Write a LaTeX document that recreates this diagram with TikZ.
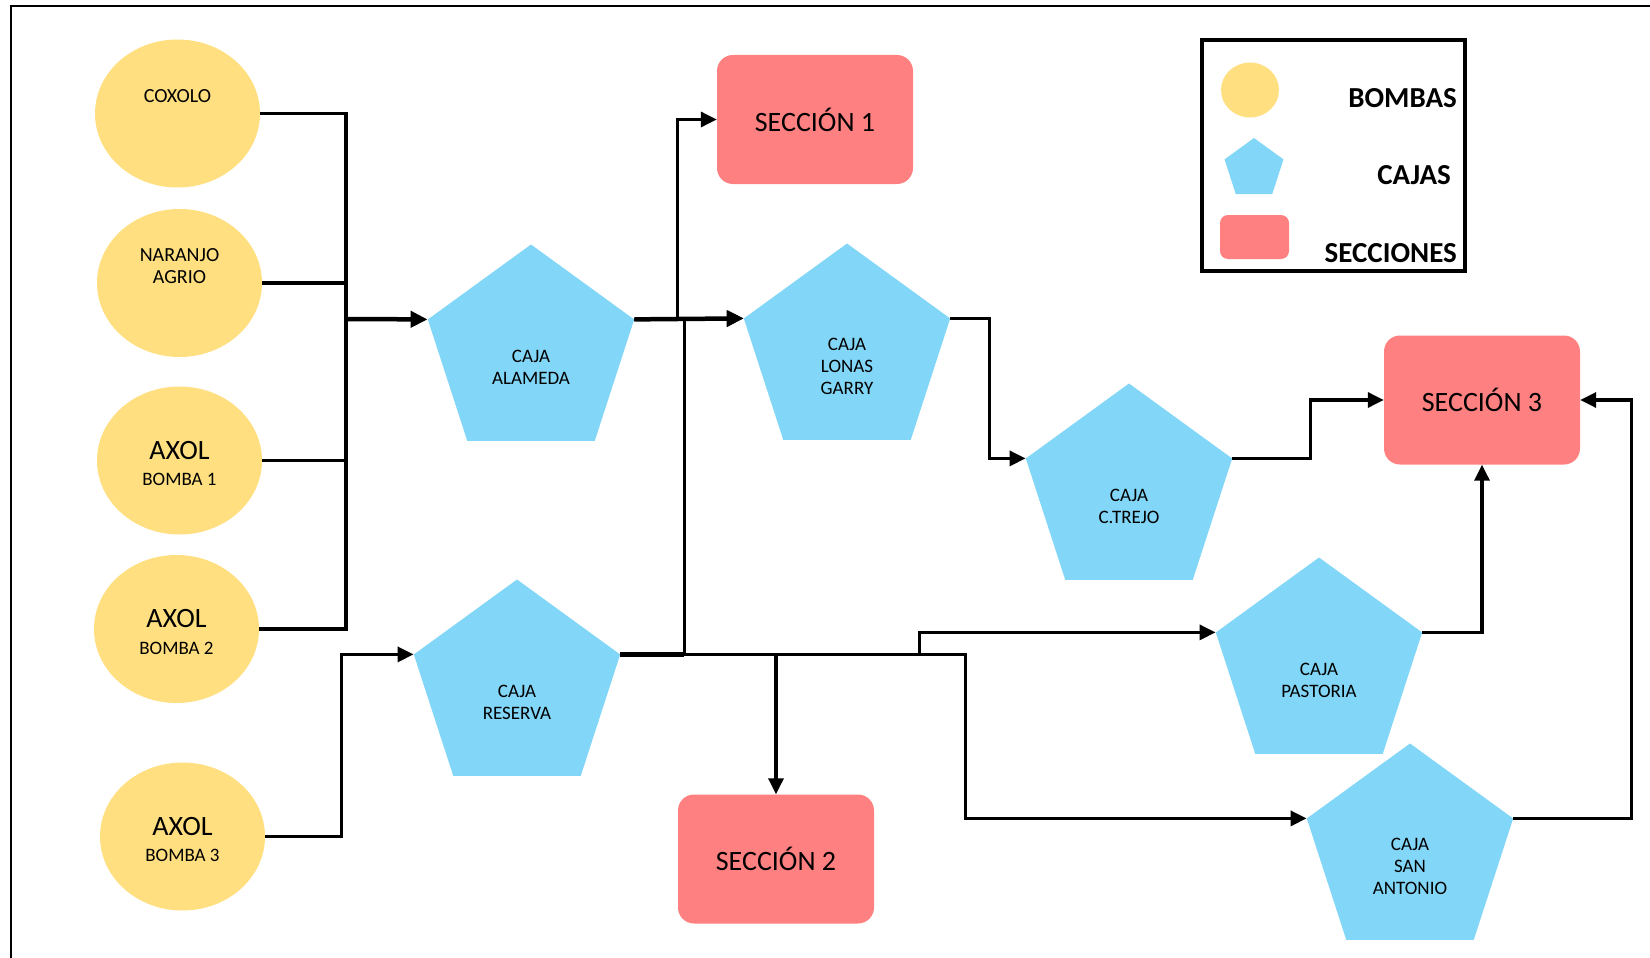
\documentclass[tikz,border=0pt]{standalone}
\usepackage{fontspec}
\setmainfont{Carlito}
\usetikzlibrary{shapes.geometric,arrows.meta}
\definecolor{bombacolor}{HTML}{FFDF80}
\definecolor{cajacolor}{HTML}{82D6F7}
\definecolor{seccioncolor}{HTML}{FF8080}

\begin{document}
\begin{tikzpicture}[x=1pt,y=-1pt,
    bomba/.style={ellipse,fill=bombacolor,minimum width=165pt,minimum height=148pt,inner sep=0pt},
    caja/.style={regular polygon,regular polygon sides=5,fill=cajacolor,minimum size=217pt,inner sep=0pt},
    seccion/.style={rectangle,rounded corners=16pt,fill=seccioncolor,minimum width=196pt,minimum height=129pt,
        font=\fontsize{28}{30}\selectfont},
    nombre/.style={font=\fontsize{20}{22}\selectfont,align=center,inner sep=0pt},
    grande/.style={font=\fontsize{28}{30}\selectfont,inner sep=0pt},
    cajatxt/.style={font=\fontsize{19}{22}\selectfont,align=center,inner sep=0pt},
    leyenda/.style={font=\fontsize{29}{31}\selectfont\bfseries,inner sep=0pt,anchor=east},
    flujo/.style={line width=3.3pt,-{Triangle[length=16pt,width=15pt]}},
    linea/.style={line width=3.3pt},
    grueso/.style={line width=4.5pt,-{Triangle[length=17pt,width=16pt]}}]
\useasboundingbox (0,0) rectangle (1650,958);
\draw[line width=2pt] (11,958) -- (11,6) -- (1650,6);

% bombas
\node[bomba] (coxolo) at (177.5,113.5) {};
\node[bomba] (naranjo) at (179.5,283) {};
\node[bomba] (axol1) at (179.5,460.5) {};
\node[bomba] (axol2) at (176.5,629) {};
\node[bomba] (axol3) at (182.5,836.5) {};
\node[nombre] (coxolo-t) at ([yshift=17pt]coxolo.center) {COXOLO};
\node[nombre] (naranjo-t) at ([yshift=17pt]naranjo.center) {NARANJO\\AGRIO};
\foreach \b/\n in {axol1/1,axol2/2,axol3/3} {
    \node[grande] (\b-t) at ([yshift=10pt]\b.center) {AXOL};
    \node[cajatxt] (\b-s) at ([yshift=-19pt]\b.center) {BOMBA \n};
}

% cajas
\node[caja] (alameda) at (531,353) {};
\node[caja] (lonas) at (847,352) {};
\node[caja] (trejo) at (1129,492) {};
\node[caja] (reserva) at (517,688) {};
\node[caja] (pastoria) at (1319,666) {};
\node[caja] (sanantonio) at (1410,852) {};
\node[cajatxt] (alameda-t) at ([yshift=-14pt]alameda.center) {CAJA\\ALAMEDA};
\node[cajatxt] (lonas-t) at ([yshift=-14pt]lonas.center) {CAJA\\LONAS\\GARRY};
\node[cajatxt] (trejo-t) at ([yshift=-14pt]trejo.center) {CAJA\\C.TREJO};
\node[cajatxt] (reserva-t) at ([yshift=-14pt]reserva.center) {CAJA\\RESERVA};
\node[cajatxt] (pastoria-t) at ([yshift=-14pt]pastoria.center) {CAJA\\PASTORIA};
\node[cajatxt] (sanantonio-t) at ([yshift=-14pt]sanantonio.center) {CAJA\\SAN\\ANTONIO};

% secciones
\node[seccion] (sec1) at (815,119.5) {SECCIÓN 1};
\node[seccion] (sec2) at (776,859) {SECCIÓN 2};
\node[seccion] (sec3) at (1482,400) {SECCIÓN 3};

% conexiones
\coordinate (busA) at (346,319);
\foreach \b in {coxolo,naranjo,axol1,axol2}
    \draw[linea] (\b.east) -| (busA);
\draw[grueso] (busA) -- (alameda.corner 2);
\draw[flujo] (axol3.east) -- ++(76,0) |- (reserva.corner 2);
\draw[flujo] (alameda.corner 5) -- ++(43,0) |- (sec1.west);
\draw[grueso] (alameda.corner 5) -- (lonas.corner 2);
\draw[flujo] (reserva.corner 5) -- ++(64,0) |- (lonas.corner 2);
\draw[line width=4.5pt] (reserva.corner 5) -- ++(64,0);
\draw[flujo] (reserva.corner 5) -| (sec2.north);
\draw[flujo] (reserva.corner 5) -- ++(299,0) |- (pastoria.corner 2);
\draw[flujo] (reserva.corner 5) -- ++(345,0) |- (sanantonio.corner 2);
\draw[flujo] (lonas.corner 5) -- ++(39,0) |- (trejo.corner 2);
\draw[flujo] (trejo.corner 5) -- ++(78,0) |- (sec3.west);
\draw[flujo] (pastoria.corner 5) -| (sec3.south);
\draw[flujo] (sanantonio.corner 5) -- ++(118,0) |- (sec3.east);

% leyenda
\draw[line width=3.5pt] (1202,40) rectangle (1465,271);
\node[ellipse,fill=bombacolor,minimum width=58pt,minimum height=55pt,inner sep=0pt] (ley-bomba) at (1250,90) {};
\node[regular polygon,regular polygon sides=5,fill=cajacolor,minimum size=62pt,inner sep=0pt] (ley-caja) at (1254,169) {};
\node[rectangle,rounded corners=8pt,fill=seccioncolor,minimum width=69pt,minimum height=44pt] (ley-seccion) at (1254.5,237) {};
\node[leyenda] (ley-bombas) at (1457,98) {BOMBAS};
\node[leyenda] (ley-cajas) at (1451,175) {CAJAS};
\node[leyenda] (ley-secciones) at (1457,253) {SECCIONES};
\end{tikzpicture}
\end{document}
